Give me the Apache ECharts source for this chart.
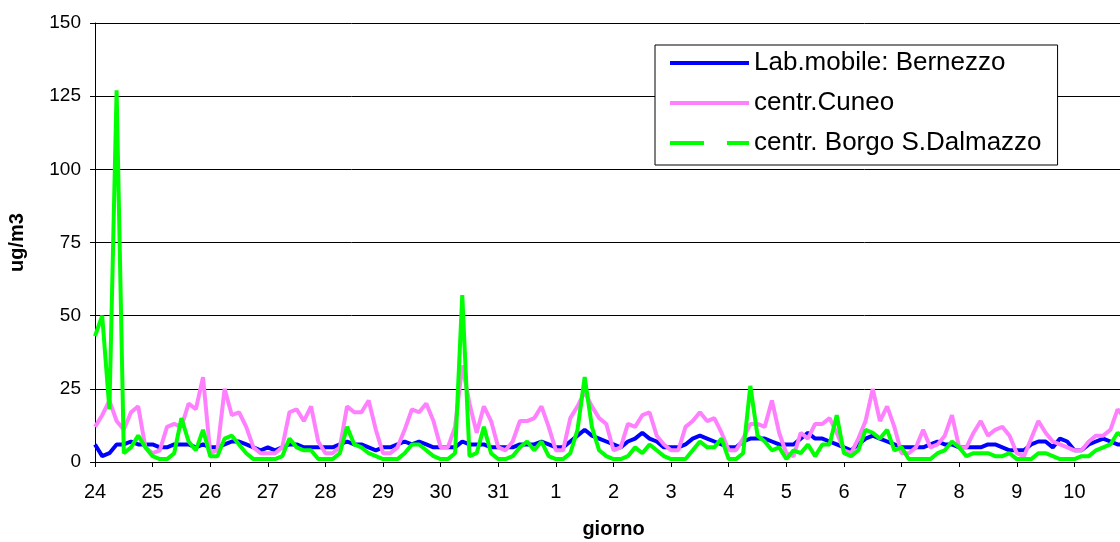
<!DOCTYPE html>
<html>
<head>
<meta charset="utf-8">
<script src="https://cdn.jsdelivr.net/npm/echarts@6/dist/echarts.min.js"></script>
<style>
  html, body { margin: 0; padding: 0; background: #fff; }
  #chart { width: 1120px; height: 542px; }
</style>
</head>
<body>
<div id="chart"></div>
<script>
// day labels on the x axis (one tick every 24 h)
var dayLabels = ["24", "25", "26", "27", "28", "29", "30", "31",
  "1", "2", "3", "4", "5", "6", "7", "8", "9", "10", "11"];
var stepHours = 3; // one value every 3 hours

// Lab.mobile: Bernezzo
var bernezzo = [
  6, 2, 3, 6, 6, 7, 6, 6,
  6, 5, 5, 6, 6, 6, 5, 6,
  5, 5, 6, 7, 7, 6, 5, 4,
  5, 4, 5, 6, 6, 5, 5, 5,
  5, 5, 6, 7, 6, 6, 5, 4,
  5, 5, 6, 7, 6, 7, 6, 5,
  5, 5, 5, 7, 6, 6, 6, 5,
  5, 5, 5, 6, 6, 6, 7, 6,
  5, 5, 7, 9, 11, 9, 8, 7,
  6, 5, 7, 8, 10, 8, 7, 5,
  5, 5, 6, 8, 9, 8, 7, 6,
  5, 5, 7, 8, 8, 8, 7, 6,
  6, 6, 8, 10, 8, 8, 7, 6,
  5, 4, 6, 8, 9, 8, 7, 6,
  5, 5, 5, 5, 6, 7, 6, 6,
  5, 5, 5, 5, 6, 6, 5, 4,
  4, 4, 6, 7, 7, 5, 8, 7,
  4, 4, 6, 7, 8, 7, 6, 6,
  5
];

// centr.Cuneo
var cuneo = [
  12, 16, 21, 14, 11, 17, 19, 5,
  3, 4, 12, 13, 12, 20, 18, 29,
  3, 4, 25, 16, 17, 12, 5, 3,
  3, 3, 5, 17, 18, 14, 19, 7,
  3, 3, 5, 19, 17, 17, 21, 11,
  3, 3, 5, 11, 18, 17, 20, 14,
  5, 5, 12, 33, 20, 10, 19, 14,
  5, 4, 7, 14, 14, 15, 19, 12,
  4, 4, 15, 19, 24, 19, 15, 13,
  4, 5, 13, 12, 16, 17, 9, 6,
  4, 4, 12, 14, 17, 14, 15, 10,
  4, 4, 8, 13, 13, 12, 21, 10,
  3, 2, 10, 8, 13, 13, 15, 10,
  4, 3, 8, 14, 25, 14, 19, 12,
  3, 3, 5, 11, 5, 6, 9, 16,
  5, 5, 10, 14, 9, 11, 12, 9,
  3, 2, 8, 14, 10, 7, 6, 5,
  4, 4, 7, 9, 9, 11, 18, 15,
  10
];

// centr. Borgo S.Dalmazzo
var borgo = [
  43, 50, 18, 127, 3, 5, 9, 5,
  2, 1, 1, 3, 15, 7, 4, 11,
  2, 2, 8, 9, 6, 3, 1, 1,
  1, 1, 2, 8, 5, 4, 4, 1,
  1, 1, 3, 12, 6, 5, 3, 2,
  1, 1, 1, 3, 6, 6, 4, 2,
  1, 1, 3, 57, 2, 3, 12, 3,
  1, 1, 2, 5, 7, 4, 7, 2,
  1, 1, 3, 11, 29, 12, 4, 2,
  1, 1, 2, 5, 3, 6, 4, 2,
  1, 1, 1, 4, 7, 5, 5, 8,
  1, 1, 3, 26, 9, 7, 4, 5,
  1, 4, 3, 6, 2, 6, 6, 16,
  3, 2, 4, 11, 10, 8, 11, 4,
  5, 1, 1, 1, 1, 3, 4, 7,
  5, 2, 3, 3, 3, 2, 2, 3,
  1, 1, 1, 3, 3, 2, 1, 1,
  1, 2, 2, 4, 5, 6, 10, 8,
  5
];

var fontName = "Liberation Sans, Arial, sans-serif";

function toPoints(values) {
  return values.map(function(v, i) {
    return [i * stepHours, v];
  });
}

var myChart = echarts.init(document.getElementById("chart"));

var option = {
  animation: false,
  backgroundColor: "#fff",
  grid: { left: 95, top: 23, right: -12, bottom: 80, outerBoundsMode: "none", containLabel: false },
  legend: {
    orient: "vertical",
    left: 655,
    top: 45,
    backgroundColor: "#fff",
    borderColor: "#000",
    borderWidth: 1,
    padding: [5, 16, 9, 15],
    itemWidth: 79,
    itemHeight: 4,
    itemGap: 14,
    itemTextGap: 5,
    itemStyle: { borderWidth: 0 },
    textStyle: { fontSize: 26, lineHeight: 26, color: "#000", fontFamily: fontName },
    data: [
      { name: "Lab.mobile: Bernezzo", icon: "rect" },
      { name: "centr.Cuneo", icon: "rect" },
      { name: "centr. Borgo S.Dalmazzo", icon: "path://M0,0H34V4H0Z M57,0H79V4H57Z" }
    ]
  },
  xAxis: {
    type: "value",
    min: 0,
    max: 432,
    interval: 24,
    name: "giorno",
    nameLocation: "middle",
    nameGap: 57,
    nameTextStyle: { fontSize: 20, fontWeight: "bold", color: "#000", fontFamily: fontName },
    axisLine: { lineStyle: { color: "#000", width: 1 } },
    axisTick: { show: true, length: 5, lineStyle: { color: "#000" } },
    axisLabel: {
      margin: 20,
      fontSize: 20,
      color: "#000",
      fontFamily: fontName,
      formatter: function(v) {
        return dayLabels[Math.round(v / 24)];
      }
    },
    splitLine: { show: false }
  },
  yAxis: {
    type: "value",
    min: 0,
    max: 150,
    interval: 25,
    name: "ug/m3",
    nameLocation: "middle",
    nameGap: 68,
    nameRotate: 90,
    nameTextStyle: { fontSize: 20, fontWeight: "bold", color: "#000", fontFamily: fontName },
    axisLine: { show: true, lineStyle: { color: "#000", width: 1 } },
    axisTick: { show: true, length: 5, lineStyle: { color: "#000" } },
    axisLabel: { margin: 14, fontSize: 19, color: "#000", fontFamily: fontName },
    splitLine: { lineStyle: { color: "#000", width: 1 } }
  },
  series: [
    {
      name: "Lab.mobile: Bernezzo",
      type: "line",
      symbol: "none",
      data: toPoints(bernezzo),
      itemStyle: { color: "#0000ff" },
      lineStyle: { color: "#0000ff", width: 4 }
    },
    {
      name: "centr.Cuneo",
      type: "line",
      symbol: "none",
      data: toPoints(cuneo),
      itemStyle: { color: "#ff80ff" },
      lineStyle: { color: "#ff80ff", width: 4 }
    },
    {
      name: "centr. Borgo S.Dalmazzo",
      type: "line",
      symbol: "none",
      data: toPoints(borgo),
      itemStyle: { color: "#00ff00" },
      lineStyle: { color: "#00ff00", width: 4 }
    }
  ]
};

myChart.setOption(option);
</script>
</body>
</html>
